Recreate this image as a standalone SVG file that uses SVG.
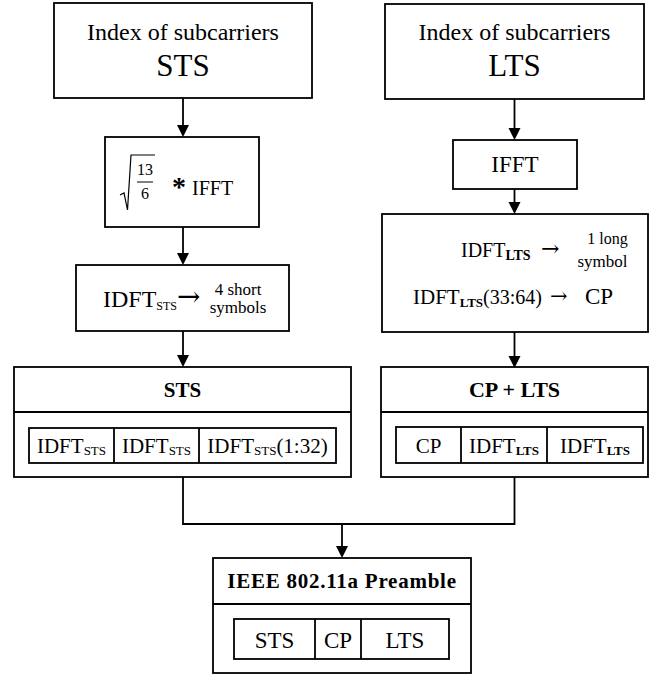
<svg xmlns="http://www.w3.org/2000/svg" width="656" height="679" viewBox="0 0 656 679">
<style>
.box{fill:#fff;stroke:#000;stroke-width:1.8}
.ln{fill:none;stroke:#000;stroke-width:1.8}
.t{font-family:"Liberation Serif","Times New Roman",serif;fill:#000}
.ar{font-family:"DejaVu Serif",serif;fill:#000}
.m{text-anchor:middle}
.b{font-weight:bold}
</style>
<g id="connectors">
<path class="ln" d="M183,98 V126"/>
<path d="M177,125 L189,125 L183,137 Z"/>
<path class="ln" d="M183,227 V254"/>
<path d="M177,253 L189,253 L183,265 Z"/>
<path class="ln" d="M183,331 V356"/>
<path d="M177,355 L189,355 L183,367 Z"/>
<path class="ln" d="M514.5,99 V129"/>
<path d="M508.5,128 L520.5,128 L514.5,140 Z"/>
<path class="ln" d="M514.5,189 V203"/>
<path d="M508.5,202 L520.5,202 L514.5,214 Z"/>
<path class="ln" d="M514.5,332 V357"/>
<path d="M508.5,356 L520.5,356 L514.5,368 Z"/>
<path class="ln" d="M183,477 V524 H514.5 V477"/>
<path class="ln" d="M342,524 V547"/>
<path d="M336,546 L348,546 L342,558 Z"/>
</g>
<g id="sts-index">
<rect class="box" x="54" y="3" width="258" height="95"/>
<text class="t m" x="183" y="40" font-size="24">Index of subcarriers</text>
<text class="t m" x="183" y="76" font-size="31">STS</text>
</g>
<g id="sts-ifft">
<rect class="box" x="105" y="137" width="154" height="90"/>
<path d="M120,195 L124,193 L127.5,210 L131,155 L155,155" fill="none" stroke="#000" stroke-width="1.2"/>
<text class="t m" x="145" y="175" font-size="16">13</text>
<line x1="137" y1="182" x2="153" y2="182" stroke="#000" stroke-width="1"/>
<text class="t m" x="145" y="199" font-size="16">6</text>
<text class="t m b" x="179" y="196" font-size="28">*</text>
<text class="t" x="192" y="195" font-size="20">IFFT</text>
</g>
<g id="sts-idft">
<rect class="box" x="76" y="265" width="213" height="66"/>
<text class="t" x="103" y="307" font-size="24">IDFT<tspan font-size="12" dy="3">STS</tspan></text>
<text class="ar" x="177" y="306" font-size="28">→</text>
<text class="t m" x="238" y="295" font-size="17">4 short</text>
<text class="t m" x="238" y="313" font-size="17">symbols</text>
</g>
<g id="sts-frame">
<rect class="box" x="14" y="367" width="337" height="110"/>
<line class="ln" x1="14" y1="412" x2="351" y2="412"/>
<text class="t m b" x="182.5" y="397" font-size="21">STS</text>
<rect class="box" x="29" y="428" width="307" height="35"/>
<line class="ln" x1="114" y1="428" x2="114" y2="463"/>
<line class="ln" x1="199" y1="428" x2="199" y2="463"/>
<text class="t m" x="71.5" y="453" font-size="21">IDFT<tspan font-size="13" dy="2">STS</tspan></text>
<text class="t m" x="156.5" y="453" font-size="21">IDFT<tspan font-size="13" dy="2">STS</tspan></text>
<text class="t m" x="267.5" y="453" font-size="21">IDFT<tspan font-size="13" dy="2">STS</tspan><tspan dy="-2">(1:32)</tspan></text>
</g>
<g id="lts-index">
<rect class="box" x="385" y="4" width="259" height="95"/>
<text class="t m" x="514.5" y="40" font-size="24">Index of subcarriers</text>
<text class="t m" x="514.5" y="76" font-size="31">LTS</text>
</g>
<g id="lts-ifft">
<rect class="box" x="453" y="140" width="124" height="49"/>
<text class="t m" x="515" y="172" font-size="23">IFFT</text>
</g>
<g id="lts-idft">
<rect class="box" x="382" y="214" width="266" height="118"/>
<text class="t" x="461" y="257" font-size="20">IDFT<tspan class="b" font-size="14" dy="3">LTS</tspan></text>
<text class="ar" x="541" y="256" font-size="22">→</text>
<text class="t m" x="607.5" y="244" font-size="16">1 long</text>
<text class="t m" x="602.5" y="267" font-size="17">symbol</text>
<text class="t" x="413" y="304" font-size="21">IDFT<tspan class="b" font-size="13" dy="3">LTS</tspan><tspan font-size="20" dy="-3">(33:64)</tspan></text>
<text class="ar" x="550" y="303" font-size="21">→</text>
<text class="t" x="585" y="304" font-size="23">CP</text>
</g>
<g id="lts-frame">
<rect class="box" x="381" y="367" width="267" height="110"/>
<line class="ln" x1="381" y1="412" x2="648" y2="412"/>
<text class="t m b" x="514.5" y="397" font-size="22">CP + LTS</text>
<rect class="box" x="396" y="427" width="247" height="36"/>
<line class="ln" x1="461" y1="427" x2="461" y2="463"/>
<line class="ln" x1="547" y1="427" x2="547" y2="463"/>
<text class="t m" x="428.5" y="453" font-size="21">CP</text>
<text class="t m" x="504" y="453" font-size="21">IDFT<tspan class="b" font-size="13" dy="2">LTS</tspan></text>
<text class="t m" x="595" y="453" font-size="21">IDFT<tspan class="b" font-size="13" dy="2">LTS</tspan></text>
</g>
<g id="preamble">
<rect class="box" x="213" y="558" width="258" height="115"/>
<line class="ln" x1="213" y1="604" x2="471" y2="604"/>
<text class="t m b" x="342" y="588" font-size="21" letter-spacing="0.75">IEEE 802.11a Preamble</text>
<rect class="box" x="234" y="619" width="215" height="40"/>
<line class="ln" x1="315" y1="619" x2="315" y2="659"/>
<line class="ln" x1="361" y1="619" x2="361" y2="659"/>
<text class="t m" x="274.5" y="648" font-size="23">STS</text>
<text class="t m" x="338" y="648" font-size="23">CP</text>
<text class="t m" x="405" y="648" font-size="23">LTS</text>
</g>
</svg>
